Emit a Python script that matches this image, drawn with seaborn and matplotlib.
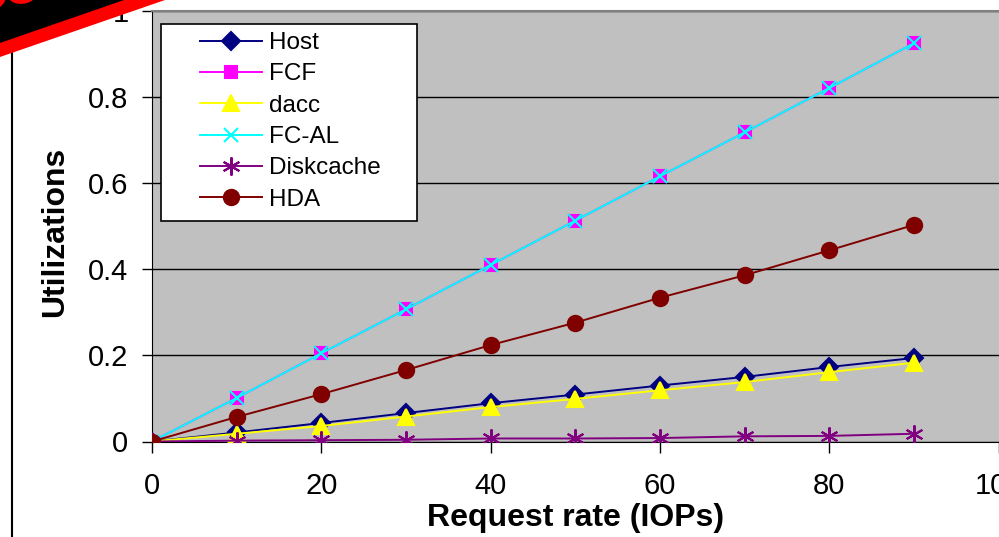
import matplotlib.pyplot as plt
import seaborn as sns
from matplotlib.patches import Polygon, Rectangle, Ellipse
from matplotlib.lines import Line2D

# Data
rate = [0, 10, 20, 30, 40, 50, 60, 70, 80, 90]
host = [0, 0.021, 0.043, 0.066, 0.089, 0.109, 0.130, 0.150, 0.173, 0.194]
fcf = [0, 0.101, 0.205, 0.307, 0.410, 0.513, 0.616, 0.718, 0.821, 0.925]
dacc = [0, 0.018, 0.036, 0.058, 0.080, 0.099, 0.119, 0.138, 0.161, 0.183]
fc_al = [0, 0.101, 0.205, 0.307, 0.410, 0.513, 0.616, 0.718, 0.821, 0.925]
diskcache = [0, 0.002, 0.003, 0.004, 0.007, 0.007, 0.008, 0.012, 0.013, 0.018]
hda = [0, 0.057, 0.110, 0.166, 0.224, 0.276, 0.334, 0.386, 0.444, 0.503]

series = [
    ("Host", host, "#000080", "D", 9),
    ("FCF", fcf, "#FF00FF", "s", 9),
    ("dacc", dacc, "#FFFF00", "^", 11),
    ("FC-AL", fc_al, "#00FFFF", "x", 10),
    ("Diskcache", diskcache, "#800080", (6, 2, 0), 13),
    ("HDA", hda, "#800000", "o", 11),
]

W, H = 999, 537
plt.rcParams['font.family'] = ['Liberation Sans', 'DejaVu Sans']

fig = plt.figure(figsize=(W / 100, H / 100), dpi=100)
ax = fig.add_axes([152 / W, 95.5 / H, 846.5 / W, 430.5 / H])
ax.set_facecolor("#C0C0C0")

for name, vals, col, mk, ms in series:
    sns.lineplot(x=rate, y=vals, ax=ax, color=col, marker=mk, markersize=ms,
                 markeredgecolor=col, markerfacecolor=col, markeredgewidth=1.5,
                 linewidth=1.4, label=name, zorder=3)

ax.set_xlim(0, 100)
ax.set_ylim(0, 1.0)
ax.set_xticks([0, 20, 40, 60, 80, 100])
ax.set_yticks([0, 0.2, 0.4, 0.6, 0.8, 1.0])
ax.set_yticklabels(["0", "0.2", "0.4", "0.6", "0.8", "1"])
ax.tick_params(axis='x', labelsize=21, length=8, width=1, pad=14, direction='out')
ax.tick_params(axis='y', labelsize=21, length=7, width=1, pad=10, direction='out')
ax.yaxis.grid(True, color='black', linewidth=1)
ax.set_axisbelow(True)
ax.spines['left'].set_color('black')
ax.spines['bottom'].set_color('black')
ax.spines['top'].set_color('#808080')
ax.spines['top'].set_linewidth(1.5)
ax.spines['right'].set_visible(False)

ax.set_xlabel("Request rate (IOPs)", fontsize=23, fontweight='bold')
ax.xaxis.set_label_coords(0.5, -0.143)
ax.set_ylabel("Utilizations", fontsize=23, fontweight='bold')
ax.yaxis.set_label_coords(-0.0968, 0.488)

# legend box, Excel style
ax.get_legend().remove()
handles, labels = ax.get_legend_handles_labels()
fig.patches.append(Rectangle((161 / W, 1 - 221 / H), 256 / W, 197 / H,
                             transform=fig.transFigure, facecolor='white',
                             edgecolor='black', linewidth=1.2, zorder=2))
leg = fig.legend(handles, labels, loc='upper left', frameon=False,
                 bbox_to_anchor=(200 / W, 1 - 32 / H), bbox_transform=fig.transFigure,
                 fontsize=17.5, handlelength=2.55, handletextpad=0.29,
                 labelspacing=0.385, borderpad=0, borderaxespad=0)
leg.set_zorder(3)

# outer chart border on the left
fig.add_artist(Line2D([12 / W, 12 / W], [0, 1 - 52 / H], transform=fig.transFigure,
                      color='black', linewidth=1.5))

# corner banner
fig.add_artist(Polygon([(0, 1 - 57 / H), (165 / W, 1), (0, 1)], closed=True,
                       transform=fig.transFigure, facecolor='red', edgecolor='none', zorder=5))
fig.add_artist(Polygon([(0, 1 - 43 / H), (124 / W, 1), (0, 1)], closed=True,
                       transform=fig.transFigure, facecolor='black', edgecolor='none', zorder=6))
fig.add_artist(Ellipse((22 / W, 1 + 4 / H), 26 / W, 16 / H, angle=-20,
                       transform=fig.transFigure, facecolor='red', edgecolor='none', zorder=7))
fig.add_artist(Ellipse((-2 / W, 1 - 2 / H), 12 / W, 16 / H, angle=-20,
                       transform=fig.transFigure, facecolor='red', edgecolor='none', zorder=7))

fig.savefig("out.png", dpi=100)
